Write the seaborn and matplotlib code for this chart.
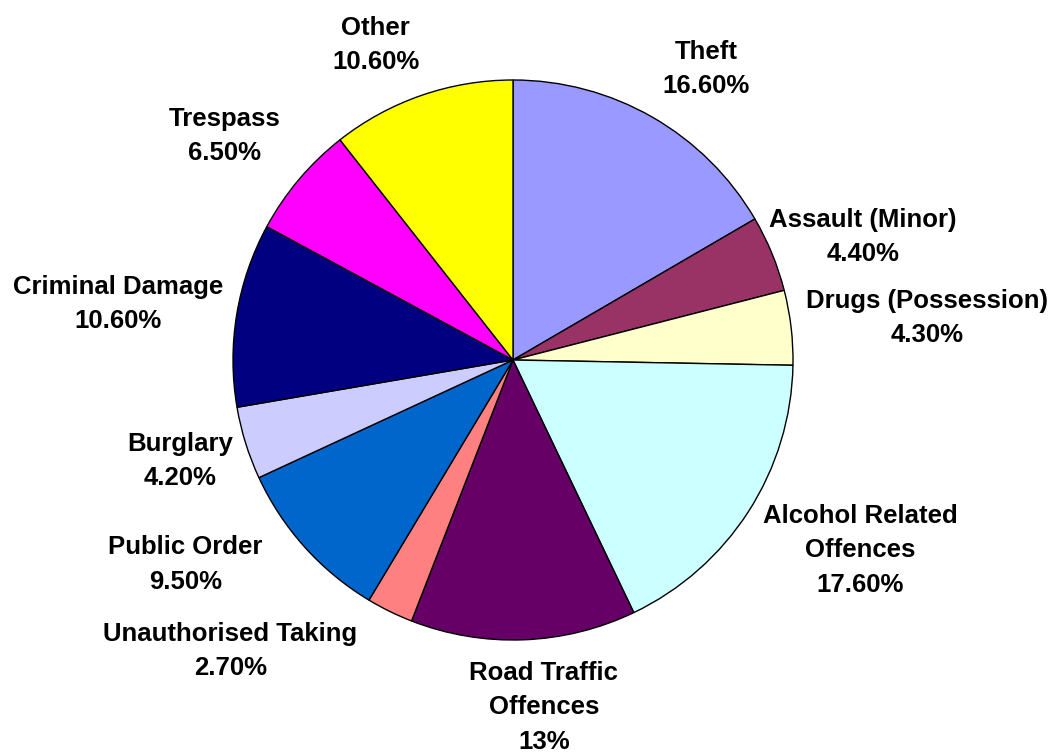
import matplotlib
matplotlib.use("Agg")
import matplotlib.pyplot as plt
import seaborn as sns

categories = ["Theft", "Assault (Minor)", "Drugs (Possession)", "Alcohol Related\nOffences",
              "Road Traffic\nOffences", "Unauthorised Taking", "Public Order", "Burglary",
              "Criminal Damage", "Trespass", "Other"]
values = [16.6, 4.4, 4.3, 17.6, 13.0, 2.7, 9.5, 4.2, 10.6, 6.5, 10.6]
pct_labels = ["16.60%", "4.40%", "4.30%", "17.60%", "13%", "2.70%", "9.50%", "4.20%",
              "10.60%", "6.50%", "10.60%"]
colors = ["#9999FF", "#993366", "#FFFFCC", "#CCFFFF", "#660066", "#FF8080", "#0066CC",
          "#CCCCFF", "#000080", "#FF00FF", "#FFFF00"]
# label centres in units of pie radius (layout)
label_pos = [(0.69, 1.04), (1.25, 0.44), (1.48, 0.15), (1.24, -0.68), (0.11, -1.24),
             (-1.01, -1.04), (-1.17, -0.73), (-1.19, -0.36), (-1.41, 0.20), (-1.03, 0.80),
             (-0.49, 1.125)]

sns.set_theme(style="white")
plt.rcParams["font.family"] = ["Liberation Sans", "DejaVu Sans"]

W, H = 1053, 754
fig = plt.figure(figsize=(W / 100, H / 100), dpi=100)
ax = fig.add_axes([0, 0, 1, 1])
ax.pie(values, colors=colors, startangle=90, counterclock=False,
       wedgeprops=dict(edgecolor="black", linewidth=1.0))

cx, cy, r = 513, 360, 280
ax.set_xlim(-cx / r, (W - cx) / r)
ax.set_ylim(-(H - cy) / r, cy / r)
ax.set_aspect("auto")
ax.axis("off")

for cat, pct, (lx, ly) in zip(categories, pct_labels, label_pos):
    ax.text(lx, ly, f"{cat}\n{pct}", ha="center", va="center", fontsize=18.5,
            fontweight="bold", linespacing=1.55, color="black")

fig.savefig("out.png", dpi=100)
